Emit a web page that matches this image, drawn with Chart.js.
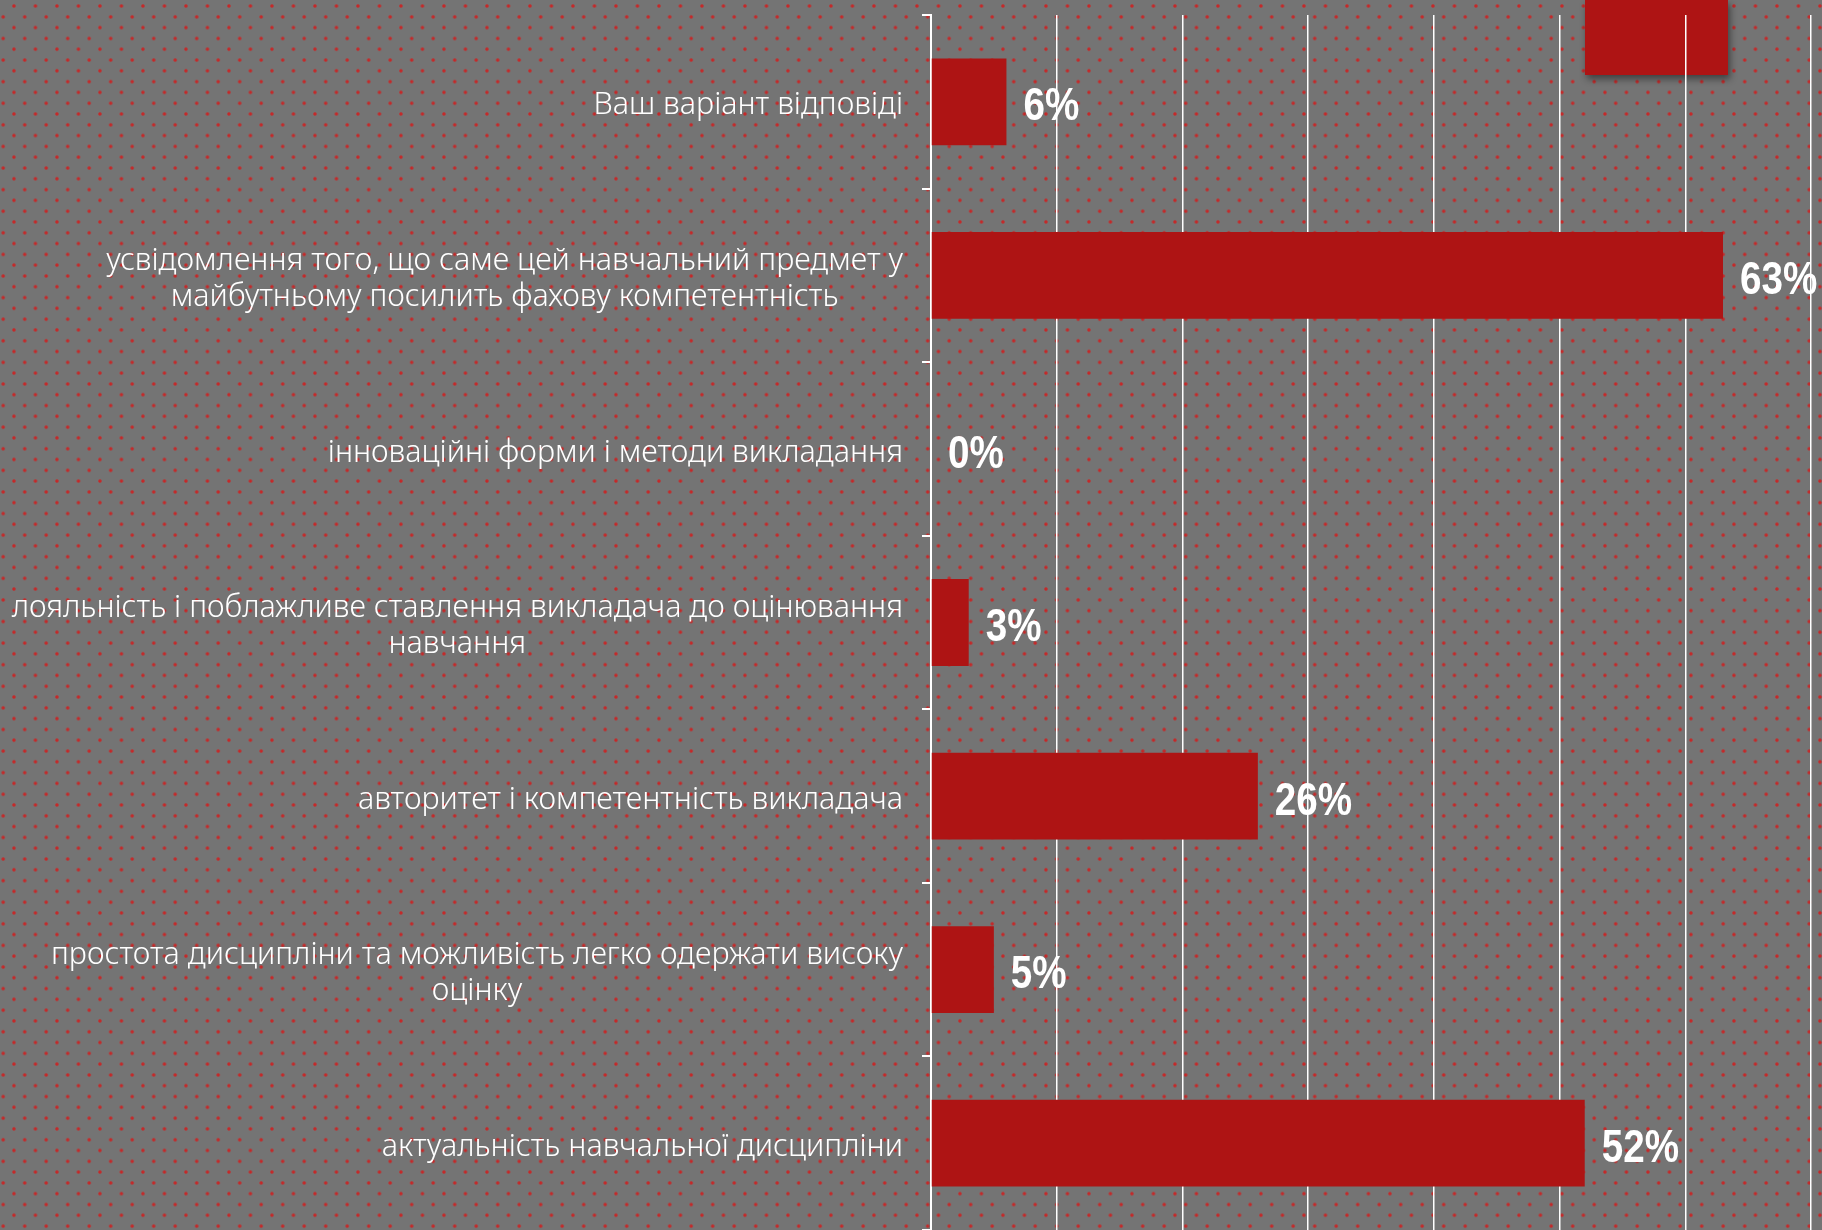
<!DOCTYPE html>
<html>
<head>
<meta charset="utf-8">
<script src="https://cdn.jsdelivr.net/npm/chart.js@4.4.1/dist/chart.umd.min.js"></script>
<style>
  html, body { margin: 0; padding: 0; width: 1822px; height: 1230px; overflow: hidden; }
  body {
    background-color: #747474;
    background-image:
      radial-gradient(circle, rgba(210,28,28,1) 0, rgba(210,28,28,0.75) 1.3px, rgba(210,28,28,0) 2.2px),
      radial-gradient(circle, rgba(210,28,28,1) 0, rgba(210,28,28,0.75) 1.3px, rgba(210,28,28,0) 2.2px);
    background-size: 21.5px 21.6px, 21.5px 21.6px;
    background-position: -7.55px 6.1px, 3.2px -4.8px;
  }
  #deco {
    position: absolute; left: 1585px; top: 0; width: 143px; height: 75px;
    background: #ae1414; box-shadow: 2px 4px 7px rgba(0,0,0,0.45);
  }
  #wrap { position: absolute; left: 0; top: 0; width: 1822px; height: 1230px; }
</style>
</head>
<body>
<div id="deco"></div>
<div id="wrap"><canvas id="answersChart"></canvas></div>
<script>
const categories = [
  ["Ваш варіант відповіді"],
  ["усвідомлення того, що саме цей навчальний предмет у", "майбутньому посилить фахову компетентність"],
  ["інноваційні форми і методи викладання"],
  ["лояльність і поблажливе ставлення викладача до оцінювання", "навчання"],
  ["авторитет і компетентність викладача"],
  ["простота дисципліни та можливість легко одержати високу", "оцінку"],
  ["актуальність навчальної дисципліни"]
];
const shares = [6, 63, 0, 3, 26, 5, 52];
const axisMax = 70;
const axisStep = 10;

// category labels: block right-aligned, lines centred inside the block
const categoryLabels = {
  id: 'categoryLabels',
  afterDraw(chart) {
    const ctx = chart.ctx;
    const y = chart.scales.y;
    const right = chart.chartArea.left - 28;
    const lineH = 36;
    ctx.save();
    ctx.font = '300 30.5px "Noto Sans"';
    ctx.fillStyle = '#ffffff';
    ctx.textAlign = 'center';
    ctx.textBaseline = 'middle';
    categories.forEach((lines, i) => {
      const w = Math.max(...lines.map(l => ctx.measureText(l).width));
      const cx = right - w / 2;
      const cy = y.getPixelForValue(i) + 4;
      lines.forEach((l, j) => {
        ctx.fillText(l, cx, cy + (j - (lines.length - 1) / 2) * lineH);
      });
    });
    ctx.restore();
  }
};

// percentage labels, narrowed a bit to look like the condensed slide font
const valueLabels = {
  id: 'valueLabels',
  afterDatasetsDraw(chart) {
    const ctx = chart.ctx;
    const meta = chart.getDatasetMeta(0);
    ctx.save();
    ctx.font = 'bold 46px "Liberation Sans", sans-serif';
    ctx.fillStyle = '#ffffff';
    ctx.textAlign = 'left';
    ctx.textBaseline = 'middle';
    meta.data.forEach((bar, i) => {
      ctx.save();
      ctx.translate(bar.x + 17, bar.y + 6);
      ctx.scale(0.84, 1);
      ctx.fillText(shares[i] + '%', 0, 0);
      ctx.restore();
    });
    ctx.restore();
  }
};

const ctxAnswers = document.getElementById('answersChart').getContext('2d');
const answersChart = new Chart(ctxAnswers, {
  type: 'bar',
  data: {
    labels: categories.map(c => c.join(' ')),
    datasets: [{
      data: shares,
      backgroundColor: '#ae1414',
      categoryPercentage: 1,
      barPercentage: 0.5,
    }]
  },
  options: {
    indexAxis: 'y',
    responsive: true,
    maintainAspectRatio: false,
    animation: false,
    layout: {
      padding: { left: 922, top: 15, right: 11, bottom: 0 }
    },
    scales: {
      x: {
        min: 0,
        max: axisMax,
        ticks: { display: false, stepSize: axisStep },
        grid: { color: '#ffffff', lineWidth: 1.5, drawTicks: false },
        border: { display: false },
      },
      y: {
        ticks: { display: false },
        grid: { drawOnChartArea: false, drawTicks: true, tickLength: 9, color: '#ffffff', lineWidth: 2 },
        border: { color: '#ffffff', width: 2 },
      }
    },
    plugins: {
      legend: { display: false },
      tooltip: { enabled: false },
    }
  },
  plugins: [categoryLabels, valueLabels]
});
</script>
</body>
</html>
